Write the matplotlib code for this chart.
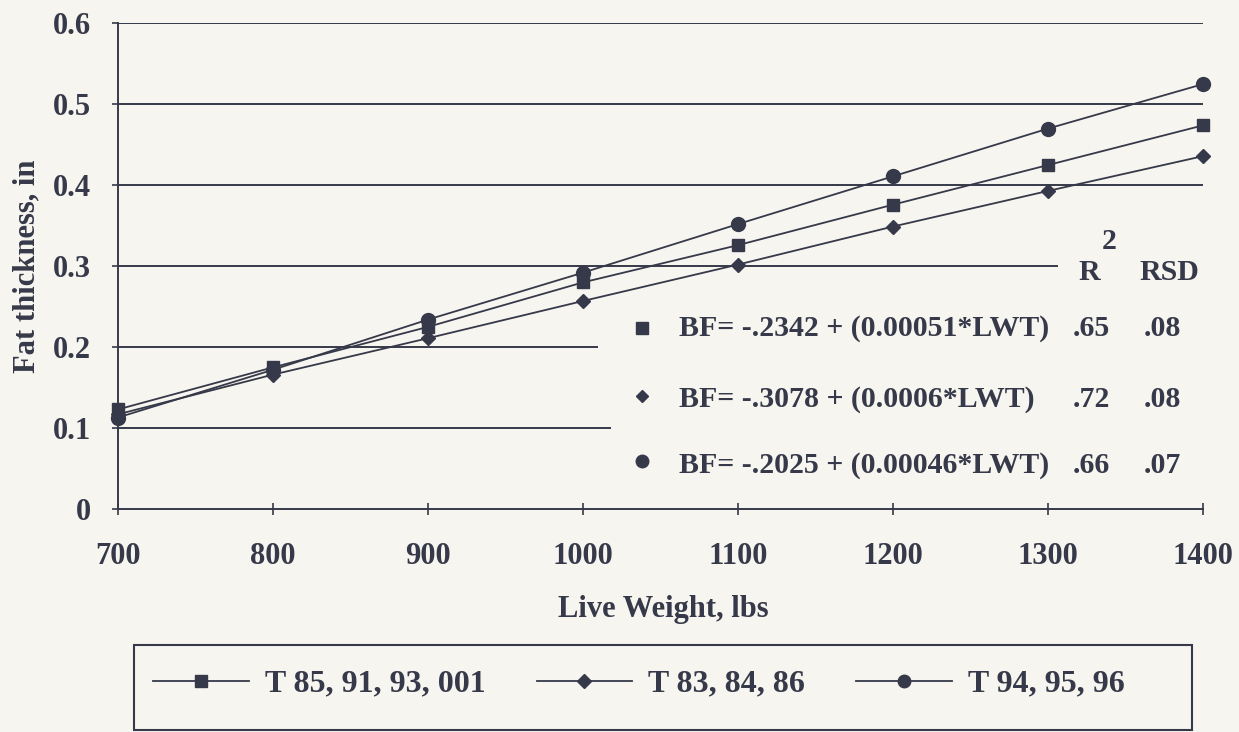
import matplotlib
matplotlib.use("Agg")
import matplotlib.pyplot as plt
from matplotlib.patches import Rectangle

plt.rcParams['font.family'] = ['Liberation Serif', 'DejaVu Serif']
plt.rcParams['font.weight'] = 'bold'

# ---- data ----
live_weight = [700, 800, 900, 1000, 1100, 1200, 1300, 1400]
series_labels = ["T 85, 91, 93, 001", "T 83, 84, 86", "T 94, 95, 96"]
fat_square = [0.123, 0.175, 0.225, 0.280, 0.326, 0.376, 0.425, 0.474]
fat_diamond = [0.117, 0.166, 0.211, 0.257, 0.302, 0.349, 0.393, 0.436]
fat_circle = [0.113, 0.172, 0.234, 0.292, 0.352, 0.411, 0.470, 0.525]
y_ticks = [0, 0.1, 0.2, 0.3, 0.4, 0.5, 0.6]
y_ticklabels = ["0", "0.1", "0.2", "0.3", "0.4", "0.5", "0.6"]
x_ticks = [700, 800, 900, 1000, 1100, 1200, 1300, 1400]
equations = ["BF= -.2342 + (0.00051*LWT)",
             "BF= -.3078 + (0.0006*LWT)",
             "BF= -.2025 + (0.00046*LWT)"]
r2_values = [".65", ".72", ".66"]
rsd_values = [".08", ".08", ".07"]

INK = '#363949'
BG = '#f7f5ef'
FS = 21.5

fig = plt.figure(figsize=(12.39, 7.32), dpi=100, facecolor=BG)
ax = fig.add_axes([0.0950, 0.3046, 0.8757, 0.6633])
ax.set_facecolor(BG)
ax.set_xlim(700, 1400)
ax.set_ylim(0, 0.6)

# partial horizontal gridlines (parts hidden by the equation box)
grid_levels = [0.1, 0.2, 0.3, 0.4, 0.5, 0.6]
grid_ends = [0.454, 0.442, 0.866, 1.0, 1.0, 1.0]
for lvl, end in zip(grid_levels, grid_ends):
    ax.axhline(lvl, xmin=0, xmax=end, color=INK, lw=1.4, zorder=1)

markers = ['s', 'D', 'o']
sizes = [9, 7.5, 10]
data = [fat_square, fat_diamond, fat_circle]
handles = []
for vals, mk, ms, lab in zip(data, markers, sizes, series_labels):
    h, = ax.plot(live_weight, vals, color=INK, lw=1.3, marker=mk, ms=ms,
                 markerfacecolor=INK, markeredgecolor=INK, clip_on=False,
                 zorder=3, label=lab)
    handles.append(h)

for s in ['top', 'right']:
    ax.spines[s].set_visible(False)
ax.spines['left'].set_color(INK)
ax.spines['bottom'].set_color(INK)
ax.spines['left'].set_linewidth(1.4)
ax.spines['bottom'].set_linewidth(1.4)

ax.set_yticks(y_ticks)
ax.set_yticklabels(y_ticklabels)
ax.set_xticks(x_ticks)
ax.set_xticklabels([str(v) for v in x_ticks])
ax.tick_params(axis='y', direction='out', length=4, width=1.2, color=INK,
               pad=15, labelsize=22, labelcolor=INK)
ax.tick_params(axis='x', direction='inout', length=8, width=1.2, color=INK,
               pad=20, labelsize=22, labelcolor=INK)
for t in ax.get_xticklabels() + ax.get_yticklabels():
    t.set_fontweight('bold')

ax.set_ylabel("Fat thickness, in", fontsize=22, fontweight='bold', color=INK,
              va='center')
ax.yaxis.set_label_coords(-0.0836, 0.5)
ax.set_xlabel("Live Weight, lbs", fontsize=22, fontweight='bold', color=INK,
              va='top')
ax.xaxis.set_label_coords(0.503, -0.178)

# equation box
row_marker_y = [0.224, 0.140, 0.059]
row_base_y = [0.214, 0.126, 0.045]
for i in range(3):
    ax.plot([1038], [row_marker_y[i]], marker=markers[i],
            ms=[8, 6, 9][i], color=INK, ls='none', zorder=4)
    ax.text(1062, row_base_y[i], equations[i], fontsize=FS, fontweight='bold',
            color=INK, va='baseline', ha='left')
    ax.text(1316, row_base_y[i], r2_values[i], fontsize=FS, fontweight='bold',
            color=INK, va='baseline', ha='left')
    ax.text(1362, row_base_y[i], rsd_values[i], fontsize=FS, fontweight='bold',
            color=INK, va='baseline', ha='left')
ax.text(1320, 0.283, "R", fontsize=FS, fontweight='bold', color=INK,
        va='baseline', ha='left')
ax.text(1335, 0.331, "2", fontsize=FS, fontweight='bold', color=INK,
        va='center', ha='left')
ax.text(1359, 0.283, "RSD", fontsize=FS, fontweight='bold', color=INK,
        va='baseline', ha='left')

# legend with separate rectangular frame
leg = fig.legend(handles=handles, labels=series_labels, loc='center left',
                 bbox_to_anchor=(153 / 1239, 1 - 684 / 732), ncol=3,
                 frameon=False, fontsize=23, handlelength=3.0,
                 handletextpad=0.5, columnspacing=1.6, borderpad=0,
                 borderaxespad=0, numpoints=1, markerscale=0.9)
for t in leg.get_texts():
    t.set_color(INK)
    t.set_fontweight('bold')
fig.add_artist(Rectangle((134 / 1239, 1 - 730 / 732), (1192 - 134) / 1239,
                         (730 - 645) / 732, transform=fig.transFigure,
                         fill=False, edgecolor=INK, lw=1.5))

fig.savefig("out.png", dpi=100, facecolor=BG)
